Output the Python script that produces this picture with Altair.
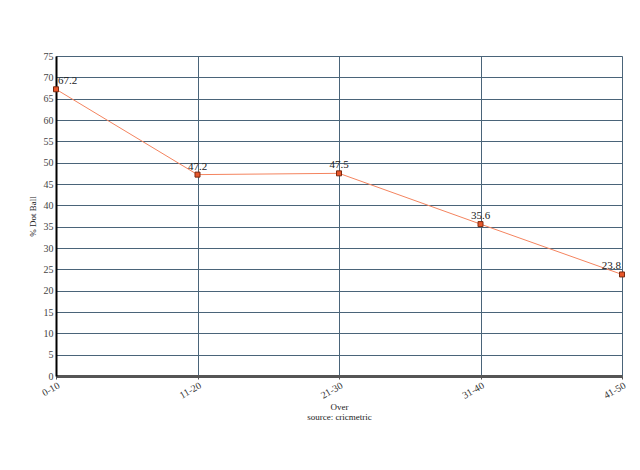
import altair as alt
import pandas as pd

overs = ["0-10", "11-20", "21-30", "31-40", "41-50"]
dot_pct = [67.2, 47.2, 47.5, 35.6, 23.8]
labels = ["67.2", "47.2", "47.5", "35.6", "23.8"]

df = pd.DataFrame({"over": overs, "pct": dot_pct, "label": labels, "idx": list(range(len(overs)))})

FONT = "Liberation Serif"
GRID = "#4a6479"

x = alt.X("over:N", sort=overs, scale=alt.Scale(type="point", padding=0),
          axis=alt.Axis(title=["Over", "source: cricmetric"], labelAngle=330,
                        labelAlign="right", labelBaseline="top", labelFont=FONT,
                        labelFontSize=10, labelColor="#333", titleFont=FONT,
                        titleFontSize=9, titleFontWeight="normal", titleColor="#222",
                        titleLineHeight=10,
                        domainColor="#555", domainWidth=3, tickColor="#555",
                        tickSize=3, grid=True, gridColor=GRID, gridWidth=1,
                        titlePadding=2, labelPadding=1))
y = alt.Y("pct:Q", scale=alt.Scale(domain=[0, 75]),
          axis=alt.Axis(title="% Dot Ball", values=list(range(0, 80, 5)),
                        labelFont=FONT, labelFontSize=10, labelColor="#444",
                        titleFont=FONT, titleFontSize=9, titleFontWeight="normal",
                        titleColor="#222", domainColor="#000", domainWidth=2,
                        ticks=False, labelPadding=3, grid=True, gridColor=GRID,
                        gridWidth=1, titlePadding=6))

base = alt.Chart(df)
line = base.mark_line(color="#f4845f", strokeWidth=1).encode(x=x, y=y)
pts = base.mark_point(shape="square", size=25, filled=True, fill="#e8562a",
                      stroke="#7a2a10", strokeWidth=1, opacity=1).encode(x=x, y=y)

txt_common = dict(font=FONT, fontSize=11, color="#222", dy=-8)
t_first = base.transform_filter("datum.idx == 0").mark_text(align="left", dx=2, **txt_common).encode(x=x, y=y, text="label:N")
t_mid = base.transform_filter("datum.idx > 0 && datum.idx < 4").mark_text(align="center", **txt_common).encode(x=x, y=y, text="label:N")
t_last = base.transform_filter("datum.idx == 4").mark_text(align="right", dx=-1, **txt_common).encode(x=x, y=y, text="label:N")

chart = alt.layer(line, pts, t_first, t_mid, t_last).properties(
    width=566, height=320,
    autosize=alt.AutoSizeParams(type="none"),
    padding={"left": 48, "top": 48, "right": 10, "bottom": 60},
).configure_view(stroke=None).configure(background="white")

chart.save("out.html", embed_options={"renderer": "svg", "actions": False})
